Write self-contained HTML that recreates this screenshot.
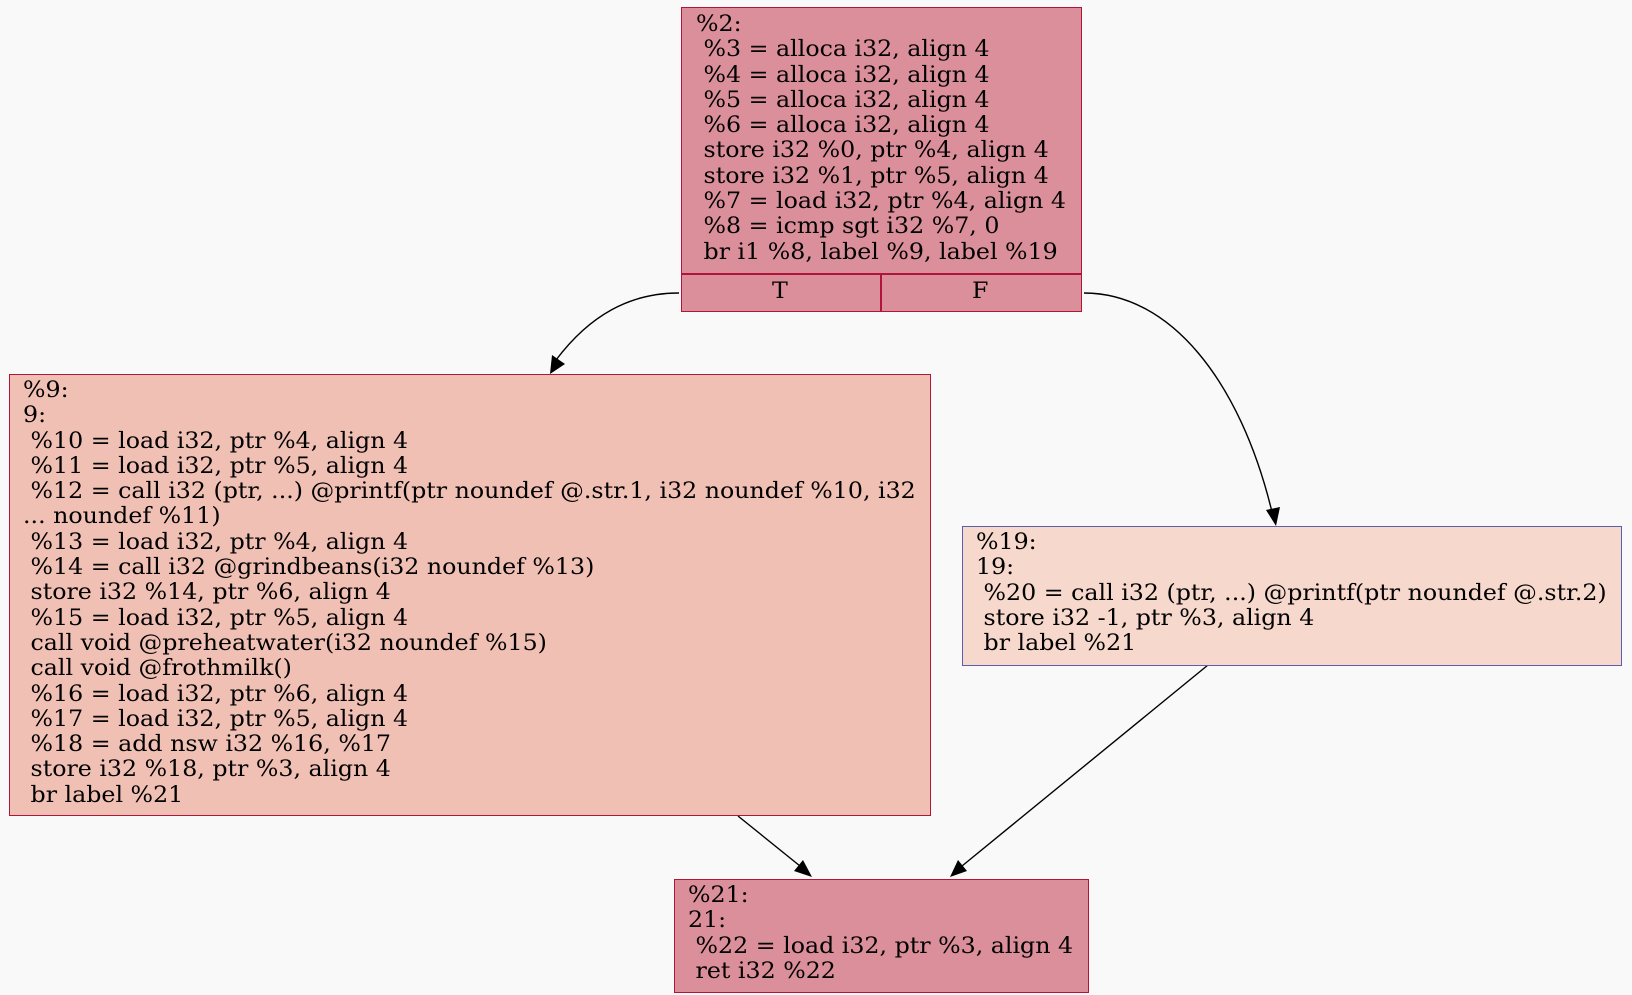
<!DOCTYPE html>
<html><head><style>
body{margin:0;width:1632px;height:995px;background:#f9f9f9;position:relative;overflow:hidden;font-family:"DejaVu Serif","Liberation Serif",serif;}
.b{position:absolute;box-sizing:border-box;border:1.5px solid #b0163a;}
.t{position:absolute;white-space:pre;font-size:22px;line-height:25.3px;color:#000;transform:scaleX(1.077);transform-origin:0 0;}
</style></head><body>
<svg width="1632" height="995" style="position:absolute;left:0;top:0">
<g fill="none" stroke="#000" stroke-width="1.4">
<path d="M679,293 C630,293 590,315 556,360" />
<path d="M1084,293 C1170,293 1240,380 1272,512" />
<path d="M738,816 L800,866" />
<path d="M1208,665 L962,866" />
</g>
<g fill="#000">
<path d="M550,374 L552,355 L565,364 z"/>
<path d="M1276,526 L1266,510 L1280,507 z"/>
<path d="M812,877 L794,871 L803,860 z"/>
<path d="M950,877 L958,860 L967,871 z"/>
</g>
</svg>
<div class="b" style="left:681px;top:7px;width:401px;height:305px;background:#db8f9b"></div>
<div style="position:absolute;left:681px;top:273px;width:401px;height:1.5px;background:#b0163a"></div>
<div style="position:absolute;left:880px;top:273px;width:1.5px;height:39px;background:#b0163a"></div>
<div class="t" style="left:696px;top:12px">%2:
 %3 = alloca i32, align 4
 %4 = alloca i32, align 4
 %5 = alloca i32, align 4
 %6 = alloca i32, align 4
 store i32 %0, ptr %4, align 4
 store i32 %1, ptr %5, align 4
 %7 = load i32, ptr %4, align 4
 %8 = icmp sgt i32 %7, 0
 br i1 %8, label %9, label %19</div>
<div class="t" style="left:772px;top:279px">T</div>
<div class="t" style="left:972px;top:279px">F</div>

<div class="b" style="left:9px;top:374px;width:922px;height:442px;background:#f1c0b4"></div>
<div class="t" style="left:23px;top:378px">%9:
9:
 %10 = load i32, ptr %4, align 4
 %11 = load i32, ptr %5, align 4
 %12 = call i32 (ptr, ...) @printf(ptr noundef @.str.1, i32 noundef %10, i32
... noundef %11)
 %13 = load i32, ptr %4, align 4
 %14 = call i32 @grindbeans(i32 noundef %13)
 store i32 %14, ptr %6, align 4
 %15 = load i32, ptr %5, align 4
 call void @preheatwater(i32 noundef %15)
 call void @frothmilk()
 %16 = load i32, ptr %6, align 4
 %17 = load i32, ptr %5, align 4
 %18 = add nsw i32 %16, %17
 store i32 %18, ptr %3, align 4
 br label %21</div>

<div class="b" style="left:962px;top:526px;width:660px;height:140px;background:#f6d8cd;border-color:#5a5fb0"></div>
<div class="t" style="left:976px;top:530px">%19:
19:
 %20 = call i32 (ptr, ...) @printf(ptr noundef @.str.2)
 store i32 -1, ptr %3, align 4
 br label %21</div>

<div class="b" style="left:674px;top:879px;width:415px;height:114px;background:#db8f9b"></div>
<div class="t" style="left:688px;top:883px">%21:
21:
 %22 = load i32, ptr %3, align 4
 ret i32 %22</div>
</body></html>
